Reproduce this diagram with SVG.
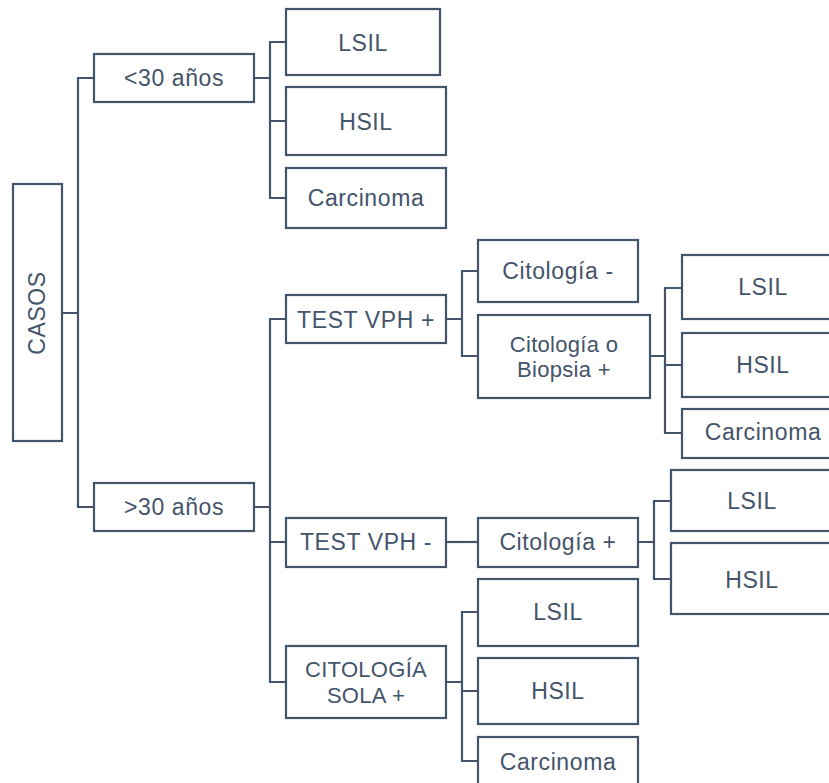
<svg xmlns="http://www.w3.org/2000/svg" width="829" height="783" viewBox="0 0 829 783">
<style>
.box{fill:#fff;stroke:#44546A;stroke-width:2.2}
.ln{fill:none;stroke:#44546A;stroke-width:2.2}
text{font-family:"Liberation Sans",Arial,sans-serif;font-size:23px;fill:#44546A;text-anchor:middle;letter-spacing:0.6px}
text.two{font-size:22px;letter-spacing:0.3px}
</style>
<rect width="829" height="783" fill="#fff"/>
<g id="connectors">
<path class="ln" d="M62 313H78M94 78H78V507H94"/>
<path class="ln" d="M254 78H270M286 42H270V198H286M270 121H286"/>
<path class="ln" d="M254 507H270M286 319H270V682H286M270 542H286"/>
<path class="ln" d="M446 319H462M478 271H462V356H478"/>
<path class="ln" d="M650 356H665M682 288H665V433H682M665 365H682"/>
<path class="ln" d="M446 542H478"/>
<path class="ln" d="M638 542H654M671 501H654V579H671"/>
<path class="ln" d="M446 682H462M478 612H462V761H478M462 691H478"/>
</g>
<g id="casos"><rect class="box" x="13" y="184" width="49" height="257"/><text transform="translate(37,313) rotate(-90)" x="0" y="8">CASOS</text></g>
<g id="menor30"><rect class="box" x="94" y="54" width="160" height="48"/><text x="174" y="86">&lt;30 años</text></g>
<g id="mayor30"><rect class="box" x="94" y="483" width="160" height="48"/><text x="174" y="515">&gt;30 años</text></g>
<g id="lsil1"><rect class="box" x="286" y="9" width="154" height="66"/><text x="363" y="50.5">LSIL</text></g>
<g id="hsil1"><rect class="box" x="286" y="87" width="160" height="68"/><text x="366" y="129.5">HSIL</text></g>
<g id="carc1"><rect class="box" x="286" y="168" width="160" height="60"/><text x="366" y="206">Carcinoma</text></g>
<g id="vphpos"><rect class="box" x="286" y="295" width="160" height="48"/><text x="366" y="327.5">TEST VPH +</text></g>
<g id="vphneg"><rect class="box" x="286" y="518" width="160" height="49"/><text x="366" y="550">TEST VPH -</text></g>
<g id="citsola"><rect class="box" x="286" y="646" width="160" height="72"/><text class="two" x="366" y="677"><tspan x="366">CITOLOGÍA</tspan><tspan x="366" dy="25.5">SOLA +</tspan></text></g>
<g id="citneg"><rect class="box" x="478" y="240" width="160" height="62"/><text x="558" y="278.5">Citología -</text></g>
<g id="citbio"><rect class="box" x="478" y="315" width="172" height="83"/><text class="two" x="564" y="351.5"><tspan x="564">Citología o</tspan><tspan x="564" dy="25.5">Biopsia +</tspan></text></g>
<g id="lsil2"><rect class="box" x="682" y="255" width="162" height="64"/><text x="763" y="295">LSIL</text></g>
<g id="hsil2"><rect class="box" x="682" y="333" width="162" height="64"/><text x="763" y="373">HSIL</text></g>
<g id="carc2"><rect class="box" x="682" y="409" width="162" height="49"/><text x="763" y="440">Carcinoma</text></g>
<g id="citpos"><rect class="box" x="478" y="518" width="160" height="49"/><text x="558" y="550">Citología +</text></g>
<g id="lsil3"><rect class="box" x="671" y="470" width="162" height="61"/><text x="752" y="508.5">LSIL</text></g>
<g id="hsil3"><rect class="box" x="671" y="543" width="162" height="71"/><text x="752" y="587.5">HSIL</text></g>
<g id="lsil4"><rect class="box" x="478" y="579" width="160" height="67"/><text x="558" y="620">LSIL</text></g>
<g id="hsil4"><rect class="box" x="478" y="658" width="160" height="66"/><text x="558" y="699">HSIL</text></g>
<g id="carc4"><rect class="box" x="478" y="737" width="160" height="60"/><text x="558" y="770">Carcinoma</text></g>
</svg>
